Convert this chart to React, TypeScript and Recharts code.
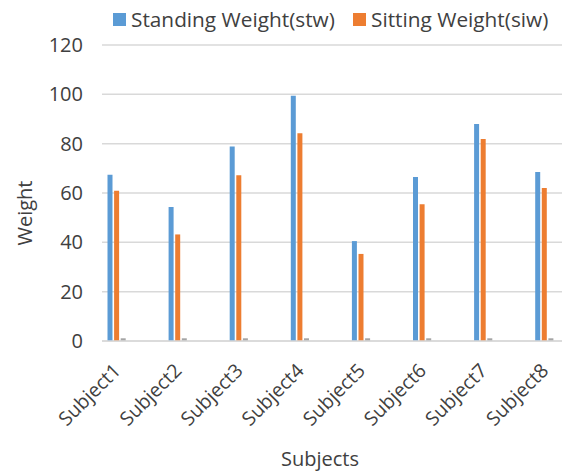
import React from "react";
import { BarChart, Bar, XAxis, YAxis, CartesianGrid } from "recharts";

const subjects = ["Subject1", "Subject2", "Subject3", "Subject4", "Subject5", "Subject6", "Subject7", "Subject8"];
const standingWeight = [67.4, 54.3, 78.9, 99.4, 40.5, 66.5, 88.0, 68.5];
const sittingWeight = [60.9, 43.2, 67.2, 84.2, 35.3, 55.4, 81.9, 62.0];
const thirdSeries = [1.1, 1.1, 1.1, 1.1, 1.1, 1.1, 1.1, 1.1];
const yTicks = [0, 20, 40, 60, 80, 100, 120];

const FONT = "'Open Sans', Lato, sans-serif";
const TEXT = "#404040";

const data = subjects.map((s, i) => ({
    name: s,
    stw: standingWeight[i],
    siw: sittingWeight[i],
    s3: thirdSeries[i],
}));

// rotated category labels, right end sits on the tick
const SubjectTick = (props: any) => {
    const { x, y, payload } = props;
    return (
        <g transform={`translate(${x},${y + 24}) rotate(-45)`}>
            <text x={0} y={0} dy="0.35em" textAnchor="end" fill={TEXT} fontSize={19.5} fontFamily={FONT}>
                {payload.value}
            </text>
        </g>
    );
};

export default function App() {
    return (
        <div style={{ position: "fixed", left: 0, top: 0, width: 562, height: 472, overflow: "hidden", background: "#fff", fontFamily: FONT }}>
            {/* Legend */}
            <div style={{ position: "absolute", left: 113, top: 5, display: "flex", alignItems: "center", color: TEXT, fontSize: 20.8 }}>
                <div style={{ width: 13, height: 13, background: "#5b9bd5", marginRight: 5 }} />
                <span>Standing Weight(stw)</span>
            </div>
            <div style={{ position: "absolute", left: 353, top: 5, display: "flex", alignItems: "center", color: TEXT, fontSize: 20.8 }}>
                <div style={{ width: 13, height: 13, background: "#ed7d31", marginRight: 5 }} />
                <span>Sitting Weight(siw)</span>
            </div>

            {/* Y axis title */}
            <div style={{ position: "absolute", left: 23.5, top: 213, transform: "translate(-50%, -50%) rotate(-90deg)", color: TEXT, fontSize: 20, whiteSpace: "nowrap" }}>
                Weight
            </div>

            {/* X axis title */}
            <div style={{ position: "absolute", left: 320, top: 458, transform: "translate(-50%, -50%)", color: TEXT, fontSize: 20, whiteSpace: "nowrap" }}>
                Subjects
            </div>

            <div style={{ position: "absolute", left: 0, top: 0 }}>
                <BarChart width={620} height={472} data={data} margin={{ top: 45, right: 0, left: 0, bottom: 0 }} barGap={1.6}>
                    <CartesianGrid horizontal vertical={false} stroke="#d9d9d9" strokeWidth={1.5} />
                    <XAxis
                        dataKey="name"
                        height={131}
                        padding={{ left: -15.5, right: 44.7 }}
                        axisLine={{ stroke: "#d9d9d9", strokeWidth: 1.5 }}
                        tickLine={false}
                        tickSize={0}
                        tick={<SubjectTick />}
                        interval={0}
                    />
                    <YAxis
                        width={102}
                        domain={[0, 120]}
                        ticks={yTicks}
                        axisLine={false}
                        tickLine={false}
                        tickSize={0}
                        tickMargin={19}
                        tick={{ fill: TEXT, fontSize: 20, fontFamily: FONT }}
                    />
                    <Bar dataKey="stw" fill="#5b9bd5" barSize={5} isAnimationActive={false} />
                    <Bar dataKey="siw" fill="#ed7d31" barSize={5} isAnimationActive={false} />
                    <Bar dataKey="s3" fill="#a5a5a5" barSize={5} isAnimationActive={false} />
                </BarChart>
            </div>
        </div>
    );
}
